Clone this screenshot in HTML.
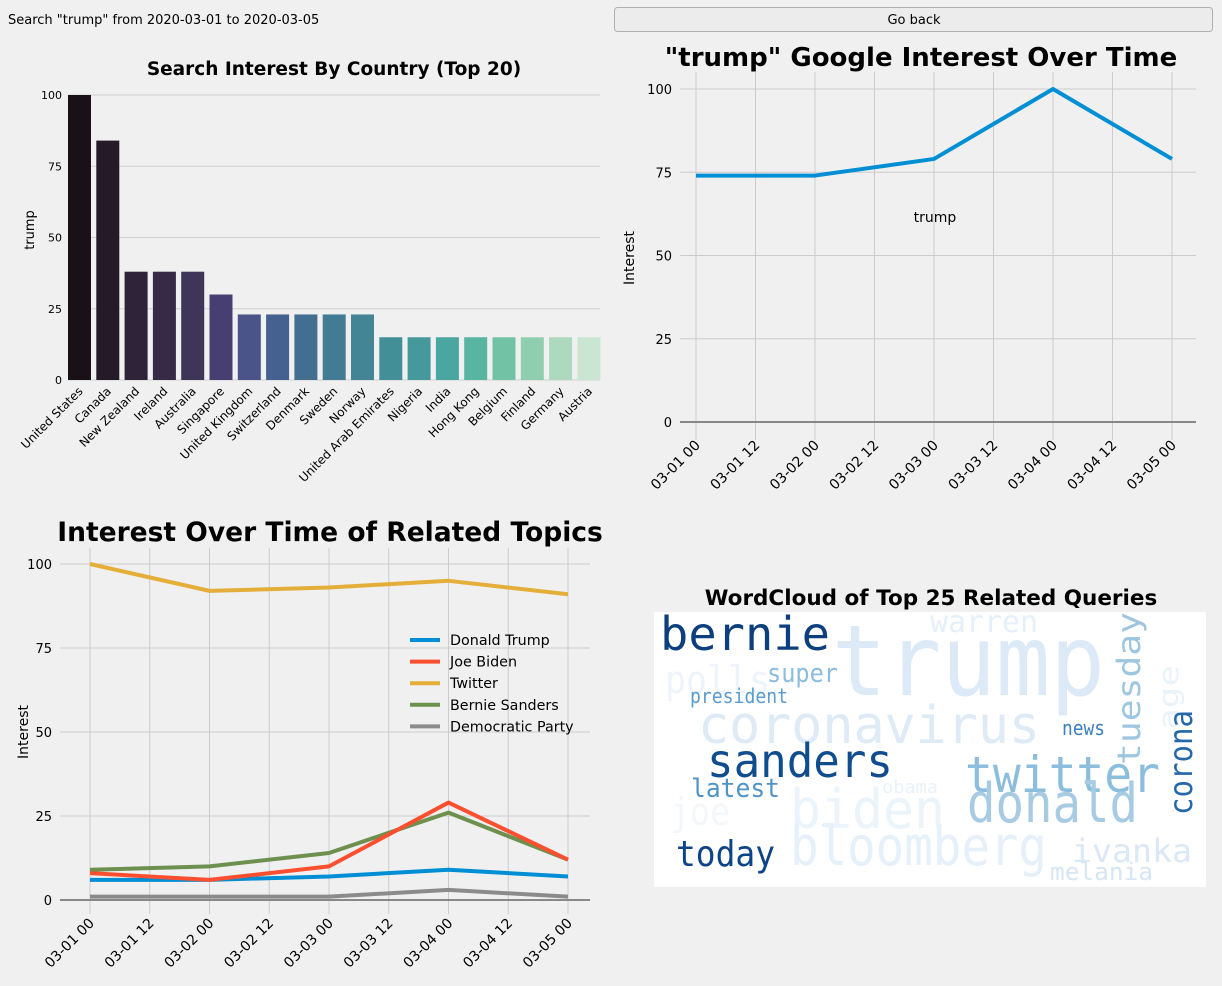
<!DOCTYPE html>
<html><head><meta charset="utf-8"><style>
body{margin:0;background:#f0f0f0;width:1222px;height:986px;overflow:hidden;font-family:"Liberation Sans","DejaVu Sans",sans-serif}
svg{position:absolute;left:0;top:0}
</style></head><body>
<svg id="s" width="1222" height="986" xmlns="http://www.w3.org/2000/svg" font-family="DejaVu Sans, Liberation Sans, sans-serif">
<text x="8" y="24" font-size="13" fill="#000">Search "trump" from 2020-03-01 to 2020-03-05</text>
<g>
<rect x="614.5" y="7.5" width="598" height="24" rx="3" fill="#ececec" stroke="#b0b0b0"/>
<text x="914" y="24" font-size="13" text-anchor="middle">Go back</text></g>
<g id="bar"></g>
<g id="top"></g>
<g id="rel"></g>
<g id="wc"></g>
</svg>
<script>
const NS="http://www.w3.org/2000/svg";
function mk(p,t,a,txt){const e=document.createElementNS(NS,t);for(const k in a)e.setAttribute(k,a[k]);if(txt!=null)e.textContent=txt;p.appendChild(e);return e;}

// ---- bar chart data
const countries=["United States","Canada","New Zealand","Ireland","Australia","Singapore","United Kingdom","Switzerland","Denmark","Sweden","Norway","United Arab Emirates","Nigeria","India","Hong Kong","Belgium","Finland","Germany","Austria"];
const countryValues=[100,84,38,38,38,30,23,23,23,23,23,15,15,15,15,15,15,15,15];
const barTicks=[0,25,50,75,100];
const barColors=["#1a1018","#251a28","#2e2338","#372a47","#3f3558","#473f72","#4a5488","#45618f","#426e92","#437a94","#448595","#438f98","#45999d","#4aa6a0","#58b5a2","#72c3a6","#8fcfaf","#add9bf","#cbe5d3"];

// ---- top right
const timeLabels=["03-01 00","03-01 12","03-02 00","03-02 12","03-03 00","03-03 12","03-04 00","03-04 12","03-05 00"];
const trumpX=[0,1,2,3,4];
const trumpValues=[74,74,79,100,79];
const lineTicks=[0,25,50,75,100];

// ---- related topics
const topicNames=["Donald Trump","Joe Biden","Twitter","Bernie Sanders","Democratic Party"];
const topicColors=["#008fd5","#fc4f30","#e5ae38","#6d904f","#8b8b8b"];
const donaldTrump=[6,6,7,9,7];
const joeBiden=[8,6,10,29,12];
const twitter=[100,92,93,95,91];
const bernieSanders=[9,10,14,26,12];
const democraticParty=[1,1,1,3,1];
const topicSeries=[donaldTrump,joeBiden,twitter,bernieSanders,democraticParty];

// ===== bar chart
(function(){
 const g=document.getElementById('bar');
 const y0=380,y1=95,x0=68,step=28.3,w=23;
 const Y=v=>y0-(v/100)*(y0-y1);
 mk(g,'text',{x:334,y:75,'font-size':18.5,'font-weight':'bold','text-anchor':'middle'},'Search Interest By Country (Top 20)');
 barTicks.forEach(t=>{
  const l=mk(g,'line',{x1:68,x2:600,y1:Y(t),y2:Y(t),stroke:'#d0d0d0','stroke-width':1});
  
  const tx=mk(g,'text',{x:62,y:Y(t)+4,'font-size':11,'text-anchor':'end'},t);
  
 });
 const yl=mk(g,'text',{transform:'translate(34,230) rotate(-90)','font-size':13,'text-anchor':'middle'},'trump');
 
 countries.forEach((c,i)=>{
  const x=x0+i*step;
  const r=mk(g,'rect',{x:x,y:Y(countryValues[i]),width:w,height:y0-Y(countryValues[i]),fill:barColors[i%barColors.length]});
  
  const t=mk(g,'text',{transform:`translate(${x+w/2+4},${y0+12}) rotate(-45)`,'font-size':12,'text-anchor':'end'},c);
  
 });
})();

// ===== time chart helper
function timeAxes(g,x0,xs,y0,y1,xl,xr,gy0,gy1,fs){
 const X=i=>x0+i*xs, Y=v=>y0-(v/100)*(y0-y1);
 timeLabels.forEach((t,i)=>{
  const l=mk(g,'line',{x1:X(i),x2:X(i),y1:gy0,y2:gy1,stroke:'#cbcbcb','stroke-width':1});
  
  const tx=mk(g,'text',{transform:`translate(${X(i)+5},${y0+24}) rotate(-45)`,'font-size':fs+1,'text-anchor':'end'},t);
  
 });
 lineTicks.forEach(t=>{
  const l=mk(g,'line',{x1:xl,x2:xr,y1:Y(t),y2:Y(t),stroke:t?'#cbcbcb':'#888','stroke-width':t?1:2});
  
  const tx=mk(g,'text',{x:xl-8,y:Y(t)+5,'font-size':fs,'text-anchor':'end'},t);
  
 });
 return {X:i=>x0+i*xs*2,Y};
}

// ===== top right
(function(){
 const g=document.getElementById('top');
 const tt=mk(g,'text',{x:921,y:66,'font-size':26,'font-weight':'bold','text-anchor':'middle'},'"trump" Google Interest Over Time');
 
 const a=timeAxes(g,696,59.5,422,89,680,1196,72,440,13);
 const yl=mk(g,'text',{transform:'translate(634,258) rotate(-90)','font-size':14,'text-anchor':'middle'},'Interest');
 
 const p=mk(g,'polyline',{points:trumpX.map((x,i)=>a.X(x)+','+a.Y(trumpValues[i])).join(' '),fill:'none',stroke:'#008fd5','stroke-width':4,'stroke-linejoin':'round'});
 
 const lb=mk(g,'text',{x:935,y:222,'font-size':14,'text-anchor':'middle'},'trump');
 
})();

// ===== related topics
(function(){
 const g=document.getElementById('rel');
 const tt=mk(g,'text',{x:330,y:541,'font-size':26.5,'font-weight':'bold','text-anchor':'middle'},'Interest Over Time of Related Topics');
 
 const a=timeAxes(g,90,59.75,900,564,60,590,548,914,13);
 const yl=mk(g,'text',{transform:'translate(28,732) rotate(-90)','font-size':14,'text-anchor':'middle'},'Interest');
 
 [4,2,0,3,1].forEach(k=>{
  const s=topicSeries[k];
  const p=mk(g,'polyline',{points:s.map((v,i)=>a.X(i)+','+a.Y(v)).join(' '),fill:'none',stroke:topicColors[k],'stroke-width':4,'stroke-linejoin':'round'});
  
 });
 topicNames.forEach((n,i)=>{
  const y=640+i*21.6;
  const l=mk(g,'line',{x1:410,x2:440,y1:y,y2:y,stroke:topicColors[i],'stroke-width':4});
  
  const t=mk(g,'text',{x:450,y:y+5,'font-size':14.3},n);
  
 });
})();

// ===== wordcloud
(function(){
 const g=document.getElementById('wc');
 const tt=mk(g,'text',{x:931,y:605,'font-size':21.5,'font-weight':'bold','text-anchor':'middle'},'WordCloud of Top 25 Related Queries');
 
 const bg=mk(g,'rect',{x:654,y:612,width:552,height:275,fill:'#fff'});
 
 const cp=mk(g,'clipPath',{id:'wcclip'});mk(cp,'rect',{x:654,y:612,width:552,height:275});
 const wg=mk(g,'g',{'clip-path':'url(#wcclip)'});
 const words=[
 ['warren',930,632,30,108,'#e6f0fa',0],['trump',832,695,98,273,'#dce9f6',0],['bernie',660,650,46,170,'#0d3f7e',0],
 ['polls',665,693,38,105,'#eef4fb',0],['super',767,682,26,71,'#8cbcde',0],['president',690,703,20,98,'#5a9bd0',0],
 ['coronavirus',698,743,52,342,'#deeaf6',0],['news',1062,735,20,43,'#3c7fbd',0],['sanders',707,777,46,186,'#0f4d8f',0],
 ['twitter',965,792,50,195,'#8bbddd',0],['latest',691,797,26,89,'#4f93c9',0],['obama',882,793,18,56,'#eaf2fa',0],
 ['joe',670,825,38,60,'#f2f7fc',0],['biden',790,828,54,155,'#ebf3fb',0],['donald',967,822,54,171,'#a6cbe3',0],
 ['today',676,866,36,99,'#0d4487',0],['bloomberg',790,865,54,257,'#e6f0fa',0],['ivanka',1072,862,32,120,'#dbe8f5',0],
 ['melania',1050,880,24,103,'#d7e6f4',0],
 ['tuesday',1140,765,32,153,'#9dc6e1',1],['age',1178,730,28,65,'#eaf2fa',1],['corona',1192,815,32,105,'#2467ab',1]];
 words.forEach(w=>{
  const a={'font-size':w[3],fill:w[5],'font-family':'DejaVu Sans Mono, monospace',textLength:w[4],lengthAdjust:'spacingAndGlyphs'};
  if(w[6]){a.transform=`translate(${w[1]},${w[2]}) rotate(-90)`;a.x=0;a.y=0;}else{a.x=w[1];a.y=w[2];}
  const t=mk(wg,'text',a,w[0]);
  
 });
})();
</script>
</body></html>
